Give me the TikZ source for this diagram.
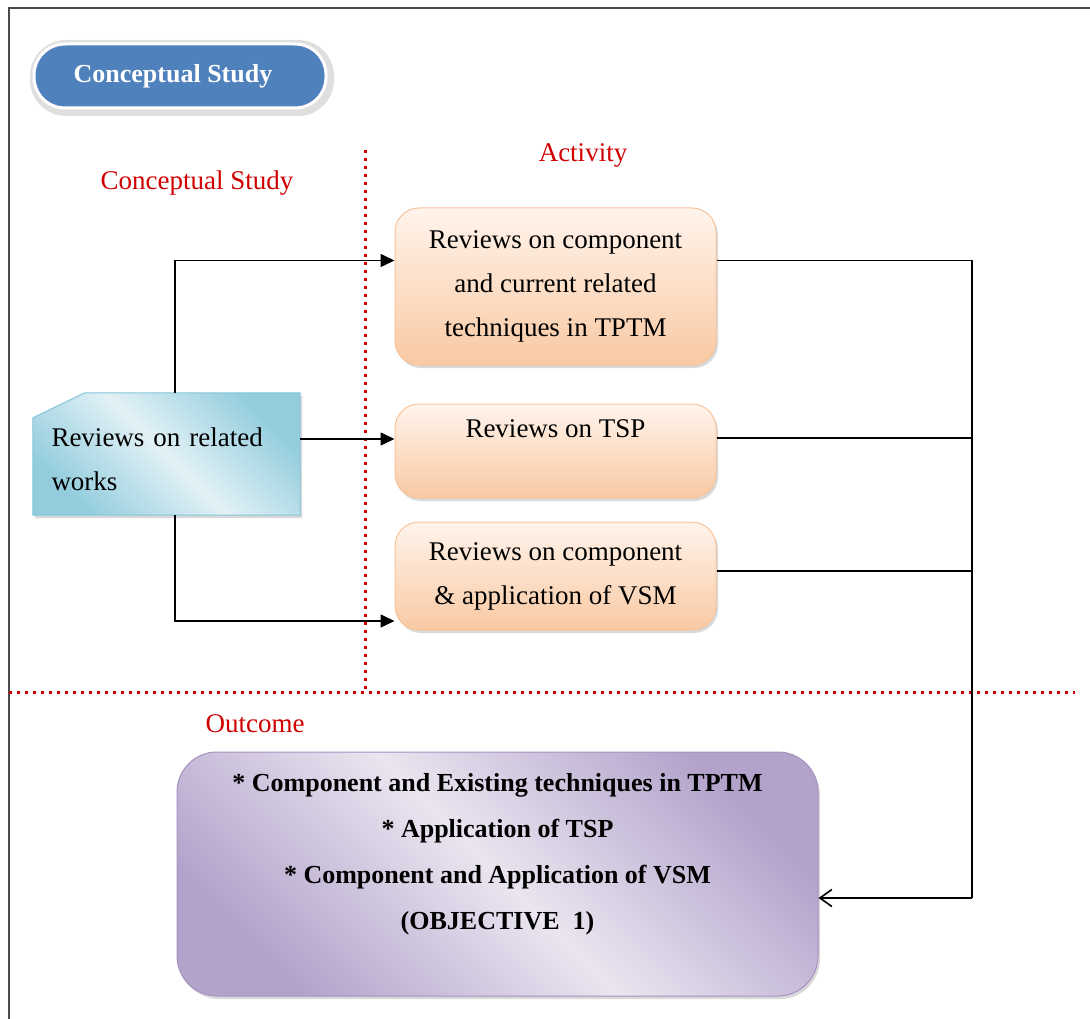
\documentclass[tikz,border=0pt]{standalone}
\usepackage{fontspec}
\setmainfont{Liberation Serif}
\usetikzlibrary{arrows.meta,shadows,backgrounds}
\definecolor{redtxt}{HTML}{D00000}
\definecolor{pillblue}{HTML}{4F81BD}
\definecolor{orTop}{HTML}{FFF4EC}
\definecolor{orBot}{HTML}{F9C9A3}
\definecolor{orEdge}{HTML}{F8C49A}
\definecolor{blDark}{HTML}{93CDDD}
\definecolor{blLight}{HTML}{E2F1F6}
\definecolor{blEdge}{HTML}{86C5D8}
\definecolor{puDark}{HTML}{B3A3CB}
\definecolor{puLight}{HTML}{EAE5F0}
\definecolor{puEdge}{HTML}{A592C0}
\definecolor{frame}{HTML}{4A4A4A}
\begin{document}
\begin{tikzpicture}[x=1pt,y=-1pt,
  txt/.style={font=\fontsize{27}{44}\selectfont},
  redlabel/.style={txt, text=redtxt, inner sep=0pt},
  actbox/.style={rectangle, rounded corners=24pt, minimum width=321pt,
    top color=orTop, bottom color=orBot, draw=orEdge, line width=1pt,
    align=center, txt, inner sep=0pt,
    drop shadow={shadow xshift=2pt, shadow yshift=-3pt, opacity=0.3}},
  diagshade/.style 2 args={left color=#1, right color=#1, middle color=#2, shading angle=135},
  reddots/.style={draw=redtxt, line width=3pt, dash pattern=on 3pt off 5pt},
  conn/.style={draw=black, line width=1.6pt},
  fwd/.style={conn, -{Triangle[length=14pt,width=13pt]}},
  back/.style={conn, -{Straight Barb[length=12pt,width=17pt]}}
]
\useasboundingbox (0,0) rectangle (1090,1019);
% frame
\draw[frame, line width=2pt] (9,1030) -- (9,8) -- (1100,8);

% title pill
\fill[gray!25, rounded corners=36pt] (30,40) rectangle (334,116);
\node (pill) [rectangle, rounded corners=31pt, minimum width=292pt, minimum height=64pt,
  fill=pillblue, draw=white, line width=3pt, inner sep=0pt,
  font=\fontsize{26}{30}\selectfont\bfseries, text=white] at (180,76)
  {\hspace*{-14pt}Conceptual Study};

% labels
\node (lcs) [redlabel] at (197,183) {Conceptual Study};
\node (lact) [redlabel] at (583,155) {Activity};
\node (lout) [redlabel] at (255,724) {Outcome};

% dotted separators
\draw[reddots] (365,150) -- (365,692);
\draw[reddots] (9,692) -- (1075,692);

% activity boxes
\node (b1) [actbox, minimum height=157pt] at (555.5,286.5)
  {Reviews on component\\and current related\\techniques in TPTM};
\node (b2) [actbox, minimum height=94pt] at (555.5,451)
  {Reviews on TSP\\\mbox{}};
\node (b3) [actbox, minimum height=108pt] at (555.5,576)
  {Reviews on component\\\& application of VSM};

% related works box
\node (rw) [rectangle, minimum width=267pt, minimum height=122pt, inner sep=0pt,
  txt, align=left, text width=230pt] at (166.5,454)
  {\\[-14pt]Reviews on related\\works};
\begin{pgfonlayer}{background}
\path[diagshade={blDark}{blLight}, draw=blEdge, line width=1pt,
  drop shadow={shadow xshift=2pt, shadow yshift=-3pt, opacity=0.3}]
  ([yshift=-25pt]rw.north west) -- ([xshift=52pt]rw.north west) -- (rw.north east)
  -- (rw.south east) -- (rw.south west) -- cycle;
\end{pgfonlayer}

% outcome box
\node (out) [rectangle, rounded corners=40pt, minimum width=641pt, minimum height=244pt,
  diagshade={puDark}{puLight},
  draw=puEdge, line width=1pt, inner sep=0pt, align=center,
  font=\fontsize{26}{46}\selectfont\bfseries,
  drop shadow={shadow xshift=2pt, shadow yshift=-3pt, opacity=0.3}] at (497.5,874)
  {* Component and Existing techniques in TPTM\\* Application of TSP\\* Component and Application of VSM\\(OBJECTIVE\ \ 1)\\\mbox{}};

% connectors from related works
\coordinate (a1) at ([yshift=26pt]b1.west);
\coordinate (a2) at ([yshift=12pt]b2.west);
\coordinate (a3) at ([yshift=-45pt]b3.west);
\draw[fwd] ([xshift=8.5pt]rw.north) |- (a1);
\draw[fwd] (rw.east |- a2) -- (a2);
\draw[fwd] ([xshift=8.5pt]rw.south) |- (a3);

% connectors to outcome
\coordinate (bus) at (972,898);
\draw[conn] ([yshift=26pt]b1.east) -| (bus);
\draw[conn] ([yshift=13pt]b2.east) -- ([yshift=13pt]b2.east -| bus);
\draw[conn] ([yshift=5pt]b3.east) -- ([yshift=5pt]b3.east -| bus);
\draw[back] (bus) -- (out.east |- bus);
\end{tikzpicture}
\end{document}
